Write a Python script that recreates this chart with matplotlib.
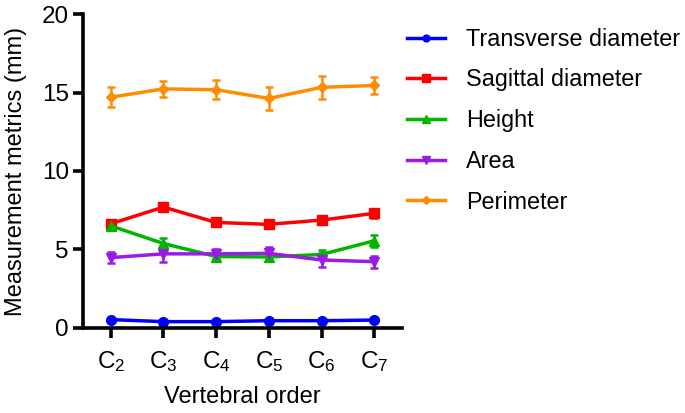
import matplotlib
matplotlib.use("Agg")
import matplotlib.pyplot as plt
import numpy as np

plt.rcParams['font.family'] = ['Liberation Sans', 'DejaVu Sans']
plt.rcParams['mathtext.fontset'] = 'custom'
plt.rcParams['mathtext.rm'] = 'Liberation Sans'
plt.rcParams['mathtext.it'] = 'Liberation Sans'

categories = ['C$_2$', 'C$_3$', 'C$_4$', 'C$_5$', 'C$_6$', 'C$_7$']

transverse = [0.53, 0.40, 0.40, 0.46, 0.46, 0.50]
transverse_err = [0.05, 0.05, 0.05, 0.05, 0.05, 0.05]
sagittal = [6.64, 7.70, 6.72, 6.60, 6.87, 7.30]
sagittal_err = [0.2, 0.2, 0.2, 0.25, 0.2, 0.3]
height = [6.50, 5.38, 4.55, 4.52, 4.68, 5.55]
height_err = [0.2, 0.38, 0.2, 0.2, 0.3, 0.4]
area = [4.48, 4.72, 4.72, 4.75, 4.33, 4.22]
area_err = [0.35, 0.5, 0.3, 0.4, 0.45, 0.38]
perimeter = [14.70, 15.23, 15.18, 14.62, 15.33, 15.45]
perimeter_err = [0.65, 0.5, 0.6, 0.75, 0.75, 0.55]

series = [
    ('Transverse diameter', transverse, transverse_err, '#0000FF', 'o', 7),
    ('Sagittal diameter', sagittal, sagittal_err, '#FF0000', 's', 7.5),
    ('Height', height, height_err, '#00B400', '^', 7.5),
    ('Area', area, area_err, '#9A1AE6', 'v', 7.5),
    ('Perimeter', perimeter, perimeter_err, '#FF8C00', 'D', 5.5),
]

fig = plt.figure(figsize=(6.85, 4.13), dpi=100)
ax = fig.add_axes([0.121, 0.206, 0.466, 0.760])

x = np.arange(len(categories))
for name, vals, err, col, mk, ms in series:
    ax.errorbar(x, vals, yerr=err, color=col, marker=mk, markersize=ms,
                linewidth=2.5, elinewidth=1.8, capsize=3, capthick=1.8,
                label=name, clip_on=False)

ax.set_xlim(-0.53, 5.53)
ax.set_ylim(0, 20)
ax.set_yticks([0, 5, 10, 15, 20])
ax.set_xticks(x)
ax.set_xticklabels(categories)
for s in ['top', 'right']:
    ax.spines[s].set_visible(False)
for s in ['left', 'bottom']:
    ax.spines[s].set_linewidth(2.6)
ax.tick_params(width=2.6, length=7, labelsize=17.5, pad=3)
ax.tick_params(axis='x', pad=8)
ax.set_xlabel('Vertebral order', fontsize=17, labelpad=9)
ax.set_ylabel('Measurement metrics (mm)', fontsize=17, labelpad=11)

leg_handles = []
for name, vals, err, col, mk, ms in series:
    line, = ax.plot([], [], color=col, marker=mk, markersize=ms * 0.7, linewidth=2.5, label=name)
    leg_handles.append(line)
fig.legend(handles=leg_handles, loc='upper left', bbox_to_anchor=(0.594, 0.933),
           frameon=False, fontsize=16.8, handlelength=1.63, handletextpad=0.92,
           labelspacing=0.76, borderpad=0, borderaxespad=0)

fig.savefig('out.png', dpi=100)
